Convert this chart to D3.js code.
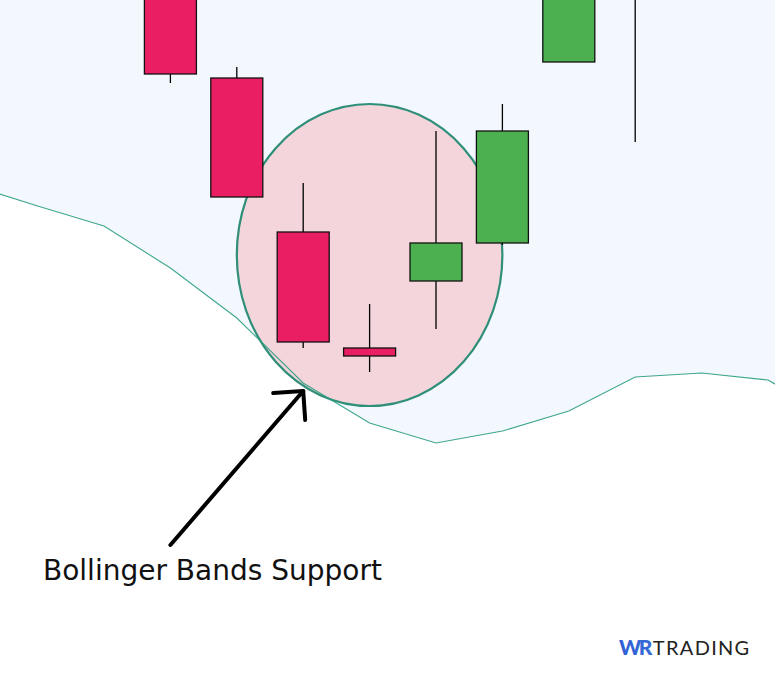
<!DOCTYPE html>
<html><head><meta charset="utf-8">
<script src="https://cdn.jsdelivr.net/npm/d3@7/dist/d3.min.js"></script>
<style>html,body{margin:0;padding:0;background:#fff;}svg{display:block;}</style>
</head><body>
<svg id="c" width="775" height="678"></svg>
<script>
// ---- data ----
const candleIdx = [2, 3, 4, 5, 6, 7, 8, 9];
const opens  = [72.0, 60.0, 44.6, 33.0, 39.7, 43.5, 61.6, 70.0];
const highs  = [74.0, 61.1, 49.5, 37.4, 54.7, 57.4, 73.0, 75.0];
const lows   = [59.5, 48.1, 33.0, 30.6, 34.9, 43.3, 61.6, 53.6];
const closes = [60.4, 48.1, 33.6, 32.2, 43.5, 54.7, 71.0, 73.5];
const bandIdx   = [-1, 0, 1, 2, 3, 4, 5, 6, 7, 8, 9, 10, 11, 12];
const bandLower = [49.3, 47.2, 45.2, 41.0, 36.0, 29.5, 25.5, 23.5, 24.7, 26.7, 30.1, 30.5, 29.8, 26.0];
const labelText = "Bollinger Bands Support";

const W = 775, H = 678;
const svg = d3.select("#c");
const x = d3.scaleLinear().domain([0, 11]).range([37.6, 768]);
const y = d3.scaleLinear().domain([0, 67.8]).range([H, 0]);
const bw = 52;

// band fill (above lower band)
const bandPts = bandIdx.map((d, i) => [d, bandLower[i]]);
svg.append("path").datum(bandPts)
  .attr("d", d3.area().x(d => x(d[0])).y0(y(80)).y1(d => y(d[1])))
  .attr("fill", "#f3f8fe");

// highlight ellipse
const ecx = x(5), erx = (x(7) - x(3)) / 2;
const eTop = y(57.4), eBot = y(27.2);
svg.append("ellipse").attr("cx", ecx).attr("cy", (eTop + eBot) / 2)
  .attr("rx", erx).attr("ry", (eBot - eTop) / 2)
  .attr("fill", "#f3d5db").attr("stroke", "#2f8f78").attr("stroke-width", 2.2);

// lower band line
svg.append("path").datum(bandPts)
  .attr("d", d3.line().x(d => x(d[0])).y(d => y(d[1])))
  .attr("fill", "none").attr("stroke", "#2a9d80").attr("stroke-width", 1.1).attr("opacity", 0.9);

// candles
const candles = candleIdx.map((d, i) => ({i: d, o: opens[i], h: highs[i], l: lows[i], c: closes[i]}));
const g = svg.append("g");
g.selectAll("line.w").data(candles).join("line")
  .attr("x1", d => x(d.i)).attr("x2", d => x(d.i))
  .attr("y1", d => y(d.h)).attr("y2", d => y(d.l))
  .attr("stroke", "#000").attr("stroke-width", 1.3);
g.selectAll("rect").data(candles).join("rect")
  .attr("x", d => x(d.i) - bw / 2).attr("width", bw)
  .attr("y", d => y(Math.max(d.o, d.c)))
  .attr("height", d => Math.abs(y(d.o) - y(d.c)))
  .attr("fill", d => d.c >= d.o ? "#4caf50" : "#e91e63")
  .attr("stroke", "#111").attr("stroke-width", 1.3);

// arrow
const ax1 = x(2), ay1 = y(13.3), ax2 = x(4), ay2 = y(28.7);
const arrow = svg.append("g").attr("stroke", "#000").attr("stroke-width", 4)
  .attr("stroke-linecap", "round").attr("stroke-linejoin", "round").attr("fill", "none");
arrow.append("line").attr("x1", ax1).attr("y1", ay1).attr("x2", ax2).attr("y2", ay2);
arrow.append("path").attr("d", `M${ax2 - 30},${ay2 + 2} L${ax2},${ay2} L${ax2 + 2},${ay2 + 29}`);

// label
svg.append("text").attr("x", 43).attr("y", 580)
  .attr("font-family", "'DejaVu Sans', sans-serif").attr("font-size", 28)
  .attr("fill", "#111").text(labelText);

// logo
const defs = svg.append("defs");
const lg = defs.append("linearGradient").attr("id", "wrg").attr("x1", "0").attr("x2", "1");
lg.append("stop").attr("offset", "0").attr("stop-color", "#2f5fd3");
lg.append("stop").attr("offset", "1").attr("stop-color", "#4d8ee8");
const logo = svg.append("text").attr("x", 619).attr("y", 655)
  .attr("font-family", "Lato, sans-serif").attr("font-size", 20);
logo.append("tspan").attr("font-weight", 900)
  .attr("font-size", 21).attr("fill", "url(#wrg)").attr("letter-spacing", -2.5).text("WR");
logo.append("tspan").attr("dx", 3).attr("font-weight", 400).attr("fill", "#222")
  .attr("letter-spacing", 1.3).text("TRADING");
</script>
</body></html>
